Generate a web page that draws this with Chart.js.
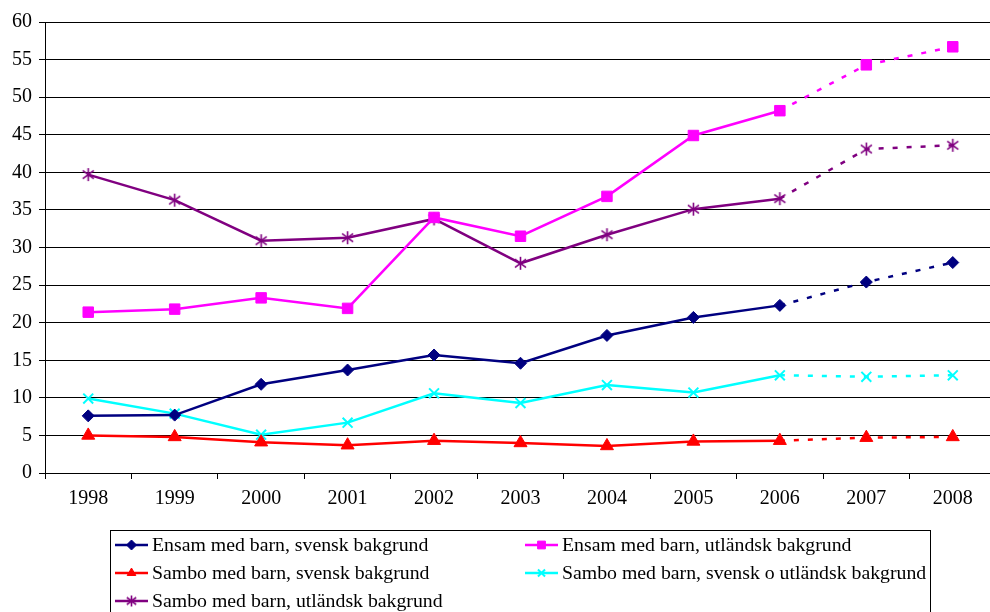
<!DOCTYPE html>
<html><head><meta charset="utf-8">
<script src="https://cdn.jsdelivr.net/npm/chart.js@4/dist/chart.umd.min.js"></script>
<style>html,body{margin:0;padding:0;overflow:hidden;background:#fff}#wrap{width:996px;height:612px;position:relative}</style>
</head><body><div id="wrap"><canvas id="c"></canvas></div>
<script>
const years = ['1998','1999','2000','2001','2002','2003','2004','2005','2006','2007','2008'];
const ensamSvensk   = [7.6, 7.7, 11.8, 13.7, 15.7, 14.6, 18.3, 20.7, 22.3, 25.4, 28.0];
const ensamUtlandsk = [21.4, 21.8, 23.3, 21.9, 34.0, 31.5, 36.8, 44.9, 48.2, 54.3, 56.7];
const samboSvensk   = [5.0, 4.8, 4.1, 3.7, 4.3, 4.0, 3.6, 4.2, 4.3, 4.7, 4.8];
const samboBlandad  = [9.9, 7.9, 5.1, 6.7, 10.6, 9.3, 11.7, 10.7, 13.0, 12.8, 13.0];
const samboUtlandsk = [39.7, 36.3, 30.9, 31.3, 33.8, 27.9, 31.7, 35.1, 36.5, 43.1, 43.6];
const seriesNames = ['Ensam med barn, svensk bakgrund','Ensam med barn, utländsk bakgrund','Sambo med barn, svensk bakgrund','Sambo med barn, svensk o utländsk bakgrund','Sambo med barn, utländsk bakgrund'];
const yTicks = [0,5,10,15,20,25,30,35,40,45,50,55,60];

function starImg(color, size){
  const c = document.createElement('canvas');
  c.width = size; c.height = size;
  const g = c.getContext('2d');
  g.strokeStyle = color; g.lineWidth = 1.6;
  const m = size/2, r = size/2 - 1;
  g.beginPath();
  g.moveTo(m, m-r); g.lineTo(m, m+r);
  const d = r*0.85;
  g.moveTo(m-d, m-d*0.75); g.lineTo(m+d, m+d*0.75);
  g.moveTo(m+d, m-d*0.75); g.lineTo(m-d, m+d*0.75);
  g.stroke();
  return c;
}
const starBig = starImg('#800080', 15);
const starSmall = starImg('#800080', 13);

const dashSeg = { borderDash: ctx => ctx.p0DataIndex >= 8 ? [5, 9] : undefined };

function ds(label, data, color, style, radius, bw){
  return { label, data, borderColor: color, backgroundColor: color,
    pointBackgroundColor: color, pointBorderColor: color, pointStyle: style,
    pointRadius: radius, pointHoverRadius: radius, pointBorderWidth: bw,
    borderWidth: 2.5, tension: 0, segment: dashSeg, borderCapStyle: 'butt' };
}

const datasets = [
  ds(seriesNames[0], ensamSvensk, '#000080', 'rectRot', 6, 1),
  ds(seriesNames[1], ensamUtlandsk, '#FF00FF', 'rect', 7.4, 1),
  ds(seriesNames[2], samboSvensk, '#FF0000', 'triangle', 7.5, 1),
  ds(seriesNames[3], samboBlandad, '#00FFFF', 'crossRot', 7, 2),
  ds(seriesNames[4], samboUtlandsk, '#800080', starBig, 7, 1)
];
const legendSmallStyles = ['rectRot','rect','triangle','crossRot',starSmall];

const legendPlugin = {
  id: 'boxLegend',
  afterDraw(chart){
    const ctx = chart.ctx;
    ctx.save();
    ctx.strokeStyle = '#000'; ctx.lineWidth = 1;
    ctx.strokeRect(110.5, 530.5, 820, 100);
    const pos = [[115,545],[525,545],[115,573],[525,573],[115,601]];
    chart.data.datasets.forEach((d, i) => {
      const [x, y] = pos[i];
      ctx.strokeStyle = d.borderColor; ctx.lineWidth = 2.5;
      ctx.beginPath(); ctx.moveTo(x, y); ctx.lineTo(x+33, y); ctx.stroke();
      ctx.fillStyle = d.borderColor; ctx.strokeStyle = d.borderColor;
      ctx.lineWidth = i === 3 ? 2 : 1;
      Chart.helpers.drawPoint(ctx, {pointStyle: legendSmallStyles[i], radius: i===1 ? 5.5 : 5, borderWidth: ctx.lineWidth, rotation: 0}, x+16.5, y);
      ctx.fillStyle = '#000';
      ctx.font = '19.8px "Liberation Serif", "Times New Roman", serif';
      ctx.textBaseline = 'middle'; ctx.textAlign = 'left';
      ctx.fillText(d.label, x+37, y+1);
    });
    ctx.restore();
  }
};

new Chart(document.getElementById('c'), {
  type: 'line',
  data: { labels: years, datasets },
  plugins: [legendPlugin],
  options: {
    responsive: true, maintainAspectRatio: false, animation: false,
    layout: { autoPadding: false, padding: { top: 22, right: 0, left: 0, bottom: 0 } },
    plugins: { legend: { display: false }, tooltip: { enabled: false } },
    scales: {
      x: {
        offset: true,
        grid: { display: true, offset: true, drawOnChartArea: false, drawTicks: true, tickLength: 6, color: '#000' },
        border: { display: true, color: '#000', width: 1 },
        ticks: { color: '#000', padding: 8, maxRotation: 0, font: { family: '"Liberation Serif", "Times New Roman", serif', size: 20 } },
        afterFit(scale){ scale.height = 139; }
      },
      y: {
        min: 0, max: 60,
        afterBuildTicks(scale){ scale.ticks = yTicks.map(v => ({ value: v })); },
        grid: { color: '#000', lineWidth: 1, tickLength: 6, drawTicks: true },
        border: { display: true, color: '#000', width: 1 },
        ticks: { color: '#000', padding: 7, font: { family: '"Liberation Serif", "Times New Roman", serif', size: 20 } },
        afterFit(scale){ scale.width = 45; }
      }
    }
  }
});
</script>
</body></html>
